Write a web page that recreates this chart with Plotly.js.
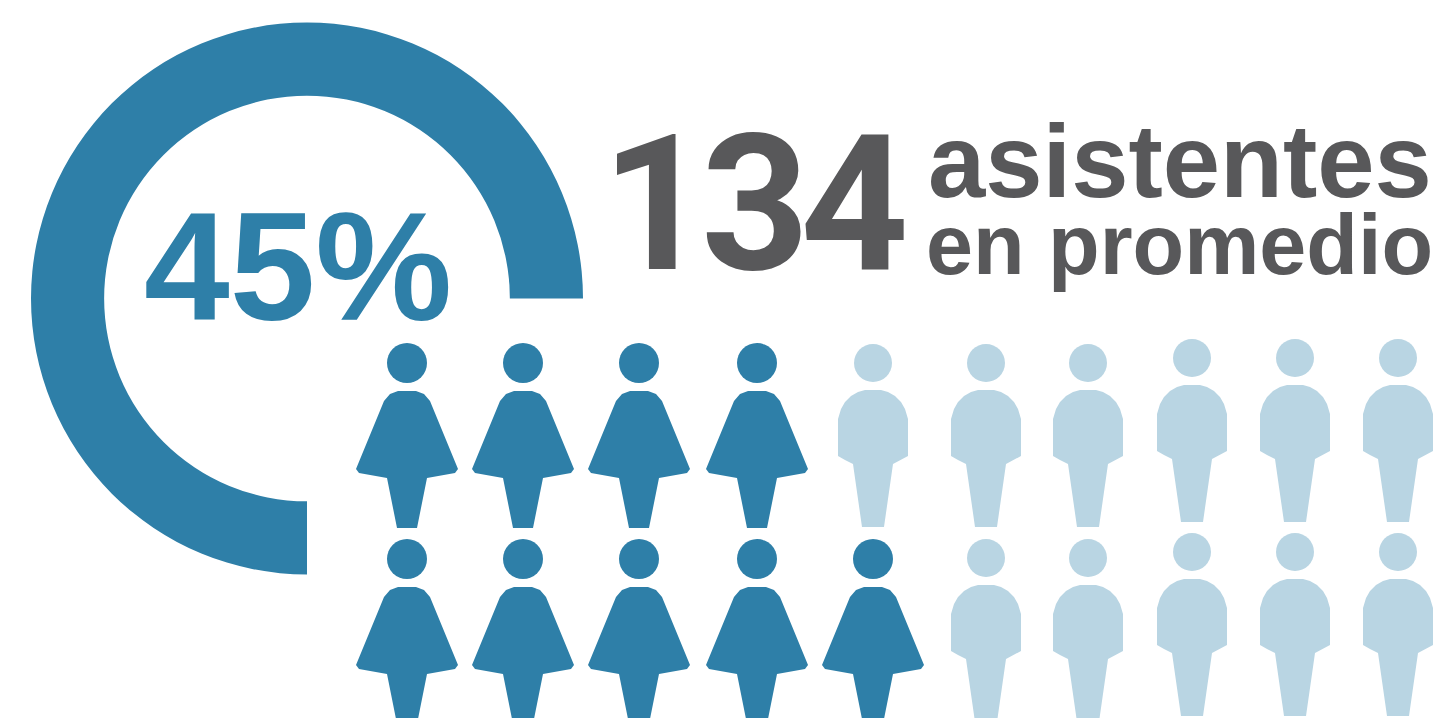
<!DOCTYPE html>
<html>
<head>
<meta charset="utf-8">
<script src="https://cdn.plot.ly/plotly-3.0.1.min.js"></script>
<style>
html,body{margin:0;padding:0;background:#fff;overflow:hidden}
#chart{width:1444px;height:718px}
</style>
</head>
<body>
<div id="chart"></div>
<script>
// Data
const gaugeLabels = ['Arco', 'Resto'];
const gaugeValues = [75, 25];
const percentLabel = '45%';
const attendeeLabel = '134';
const captionLines = ['asistentes', 'en promedio'];
const rowKinds = [
  ['M','M','M','M','H','H','H','H','H','H'],
  ['M','M','M','M','M','H','H','H','H','H']
];

// Palette and layout
const W = 1444, H = 718;
const BLUE = '#2E7FA8', LIGHT = '#B9D5E3', GREY = '#58585A';
const columnX = [407, 523, 639, 757, 873, 986, 1088, 1192, 1295, 1398];
const rowY = [[363,363,363,363,363,363,363,358,358,358],[559,559,559,559,559,558,558,552,552,552]];
const womanOutline = [[0,28],[-9,28],[-17,31],[-23,38],[-51,106],[-48,110],[-20,115],[-10,165],[10,165],[20,115],[48,110],[51,106],[23,38],[17,31],[9,28],[0,28]];
const manOutline = [[0,27],[-8,27],[-15,29],[-22,33],[-28,39],[-32,46],[-35,56],[-35,93],[-28,97],[-20,101],[-11,164],[11,164],[20,101],[28,97],[35,93],[35,56],[32,46],[28,39],[22,33],[15,29],[8,27],[0,27]];

function buildPeople(kind, color, outline, headR) {
  const bx = [], by = [], hx = [], hy = [];
  rowKinds.forEach((row, r) => row.forEach((k, c) => {
    if (k !== kind) return;
    const cx = columnX[c], cy = rowY[r][c];
    hx.push(cx); hy.push(cy);
    outline.forEach(p => { bx.push(cx + p[0]); by.push(cy + p[1]); });
    bx.push(null); by.push(null);
  }));
  return [
    {type:'scatter', mode:'lines', x:bx, y:by, fill:'toself', fillcolor:color, line:{width:0,color:color}, hoverinfo:'skip', showlegend:false},
    {type:'scatter', mode:'markers', x:hx, y:hy, marker:{size:headR*2, color:color, line:{width:0}}, hoverinfo:'skip', showlegend:false}
  ];
}

const gauge = {
  type:'pie', labels:gaugeLabels, values:gaugeValues, sort:false,
  rotation:180, direction:'counterclockwise', hole:0.735,
  textinfo:'none', hoverinfo:'skip', showlegend:false,
  marker:{colors:[BLUE,'rgba(0,0,0,0)'], line:{width:0}},
  domain:{x:[31/W,583/W], y:[1-575/H,1-22/H]}
};

function note(text, x, y, size, color, family) {
  return {text:'<b>' + text + '</b>', x:x, y:y, xref:'x', yref:'y', showarrow:false, xanchor:'center', yanchor:'middle',
          font:{family:family, size:size, color:color}, borderpad:0};
}
const SANS = '"Liberation Sans", Arial, sans-serif';

Plotly.newPlot('chart',
  [gauge].concat(buildPeople('M', BLUE, womanOutline, 20), buildPeople('H', LIGHT, manOutline, 19)),
  {
    width:W, height:H, margin:{l:0,r:0,t:0,b:0},
    paper_bgcolor:'#fff', plot_bgcolor:'#fff',
    xaxis:{visible:false, range:[0,W], fixedrange:true},
    yaxis:{visible:false, range:[H,0], fixedrange:true},
    annotations:[
      note(percentLabel, 298, 267, 154, BLUE, SANS),
      note(attendeeLabel, 750, 204, 189, GREY, 'Roboto, sans-serif'),
      note(captionLines[0], 1180, 161, 103, GREY, SANS),
      note(captionLines[1], 1179, 245, 84.5, GREY, SANS)
    ]
  },
  {displayModeBar:false, staticPlot:true}
).then(() => {
  const texts = document.querySelectorAll('.annotation-text');
  if (texts[1]) texts[1].style.letterSpacing = '-9px';
});
</script>
</body>
</html>
